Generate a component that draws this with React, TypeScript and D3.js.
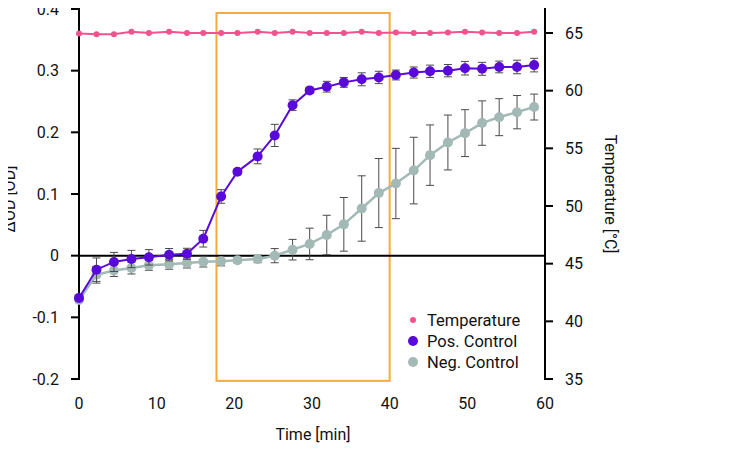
import React from "react";
import * as d3 from "d3";

const times = [0, 2.25, 4.5, 6.75, 9, 11.6, 13.9, 16, 18.3, 20.4, 23, 25.2, 27.5, 29.7, 31.9, 34.1, 36.4, 38.6, 40.8, 43.1, 45.2, 47.5, 49.7, 51.9, 54.1, 56.4, 58.6];
const temperature = [64.95, 64.9, 64.9, 65.1, 65.0, 65.1, 65.0, 65.0, 65.0, 65.0, 65.1, 65.0, 65.1, 65.0, 65.0, 65.0, 65.1, 65.0, 65.05, 65.0, 65.0, 65.05, 65.1, 65.05, 65.0, 65.0, 65.1];
const posControl = [-0.0685, -0.0227, -0.0102, -0.0054, -0.0027, 0.0016, 0.003, 0.0275, 0.096, 0.136, 0.161, 0.195, 0.244, 0.268, 0.274, 0.281, 0.286, 0.289, 0.293, 0.297, 0.299, 0.300, 0.304, 0.303, 0.306, 0.306, 0.309];
const posError = [0, 0.019, 0.0155, 0.014, 0.0125, 0.01, 0.009, 0.0135, 0.011, 0.004, 0.012, 0.018, 0.0087, 0.005, 0.0087, 0.008, 0.0105, 0.01, 0.008, 0.009, 0.01, 0.01, 0.011, 0.0105, 0.0095, 0.011, 0.011];
const negControl = [-0.072, -0.031, -0.024, -0.02, -0.0157, -0.014, -0.012, -0.0097, -0.009, -0.0075, -0.0054, 0.0, 0.0097, 0.019, 0.0335, 0.0508, 0.0765, 0.1015, 0.117, 0.138, 0.163, 0.1835, 0.1987, 0.215, 0.2246, 0.2327, 0.241];
const negError = [0, 0.0135, 0.0097, 0.0097, 0.008, 0.008, 0.008, 0.0087, 0.0075, 0.004, 0.006, 0.0115, 0.0167, 0.0256, 0.032, 0.0435, 0.053, 0.056, 0.057, 0.054, 0.049, 0.0445, 0.038, 0.036, 0.030, 0.027, 0.021];

const xTicks = [0, 10, 20, 30, 40, 50, 60];
const yLeftTicks = [-0.2, -0.1, 0, 0.1, 0.2, 0.3, 0.4];
const yLeftLabels = ["-0.2", "-0.1", "0", "0.1", "0.2", "0.3", "0.4"];
const yRightTicks = [35, 40, 45, 50, 55, 60, 65];
const boxTime = [17.7, 40];
const boxOD = [-0.203, 0.3935];

const legendItems = [
  { label: "Temperature", color: "#f2528d", r: 3 },
  { label: "Pos. Control", color: "#5a0ad8", r: 5 },
  { label: "Neg. Control", color: "#a2b9b5", r: 5 },
];

const FONT = "Roboto, 'DejaVu Sans', sans-serif";
const FS = 16;

export default function App() {
  const W = 746, H = 462;
  const x = d3.scaleLinear().domain([0, 60]).range([79, 545]);
  const yL = d3.scaleLinear().domain([-0.2, 0.4]).range([379, 9]);
  const yR = d3.scaleLinear().domain([35, 67.08]).range([379, 9]);

  const lineL = (vals: number[]) =>
    d3.line<number>().x((_, i) => x(times[i])).y((v) => yL(v))(vals) || "";
  const lineT = d3.line<number>().x((_, i) => x(times[i])).y((v) => yR(v))(temperature) || "";

  const pink = legendItems[0].color, purple = legendItems[1].color, gray = legendItems[2].color;
  const errColor = "#4a4a4a";

  const errBars = (vals: number[], errs: number[], key: string) =>
    vals.map((v, i) =>
      errs[i] > 0 ? (
        <g key={key + i} stroke={errColor} strokeWidth={1}>
          <line x1={x(times[i])} x2={x(times[i])} y1={yL(v - errs[i])} y2={yL(v + errs[i])} />
          <line x1={x(times[i]) - 4} x2={x(times[i]) + 4} y1={yL(v + errs[i])} y2={yL(v + errs[i])} />
          <line x1={x(times[i]) - 4} x2={x(times[i]) + 4} y1={yL(v - errs[i])} y2={yL(v - errs[i])} />
        </g>
      ) : null
    );

  return (
    <div style={{ margin: -8 }}>
      <svg width={W} height={H} style={{ display: "block", background: "#fff" }} fontFamily={FONT}>
        <rect
          x={x(boxTime[0])}
          y={yL(boxOD[1])}
          width={x(boxTime[1]) - x(boxTime[0])}
          height={yL(boxOD[0]) - yL(boxOD[1])}
          fill="none"
          stroke="#f6ab3d"
          strokeWidth={2}
        />
        <line x1={x(0)} x2={x(60)} y1={yL(0)} y2={yL(0)} stroke="#000" strokeWidth={2} />
        <line x1={x(0)} x2={x(0)} y1={7} y2={yL(-0.2) + 1} stroke="#000" strokeWidth={2} />
        {yLeftTicks.map((t, i) => (
          <g key={"yl" + t}>
            <line x1={x(0) - 8} x2={x(0)} y1={yL(t)} y2={yL(t)} stroke="#000" strokeWidth={2} />
            <text x={59} y={yL(t)} dy="0.35em" textAnchor="end" fontSize={FS} fill="#111">
              {yLeftLabels[i]}
            </text>
          </g>
        ))}
        <line x1={x(60)} x2={x(60)} y1={7} y2={yR(35) + 1} stroke="#000" strokeWidth={2} />
        {yRightTicks.map((t) => (
          <g key={"yr" + t}>
            <line x1={x(60)} x2={x(60) + 8} y1={yR(t)} y2={yR(t)} stroke="#000" strokeWidth={2} />
            <text x={565} y={yR(t)} dy="0.35em" textAnchor="start" fontSize={FS} fill="#111">
              {t}
            </text>
          </g>
        ))}
        {xTicks.map((t) => (
          <text key={"xt" + t} x={x(t)} y={403} dy="0.35em" textAnchor="middle" fontSize={FS} fill="#111">
            {t}
          </text>
        ))}
        <text x={313} y={434} dy="0.35em" textAnchor="middle" fontSize={FS} fill="#111">
          Time [min]
        </text>
        <text transform="translate(15,199) rotate(-90)" textAnchor="middle" fontSize={FS} fill="#111">
          ΔOD [OD]
        </text>
        <text transform="translate(605,194) rotate(90)" textAnchor="middle" fontSize={FS} fill="#111">
          Temperature [°C]
        </text>

        {errBars(negControl, negError, "ne")}
        <path d={lineL(negControl)} fill="none" stroke={gray} strokeWidth={2.5} />
        {negControl.map((v, i) => (
          <circle key={"n" + i} cx={x(times[i])} cy={yL(v)} r={5} fill={gray} />
        ))}
        {errBars(posControl, posError, "pe")}
        <path d={lineL(posControl)} fill="none" stroke={purple} strokeWidth={2} />
        {posControl.map((v, i) => (
          <circle key={"p" + i} cx={x(times[i])} cy={yL(v)} r={5} fill={purple} />
        ))}
        <path d={lineT} fill="none" stroke={pink} strokeWidth={2} />
        {temperature.map((v, i) => (
          <circle key={"t" + i} cx={x(times[i])} cy={yR(v)} r={3} fill={pink} />
        ))}

        {legendItems.map((it, i) => (
          <g key={"lg" + i} transform={`translate(413,${320 + i * 21})`}>
            <circle cx={0} cy={0} r={it.r} fill={it.color} />
            <text x={14} y={0} dy="0.35em" fontSize={16.5} fill="#111">
              {it.label}
            </text>
          </g>
        ))}
      </svg>
    </div>
  );
}
